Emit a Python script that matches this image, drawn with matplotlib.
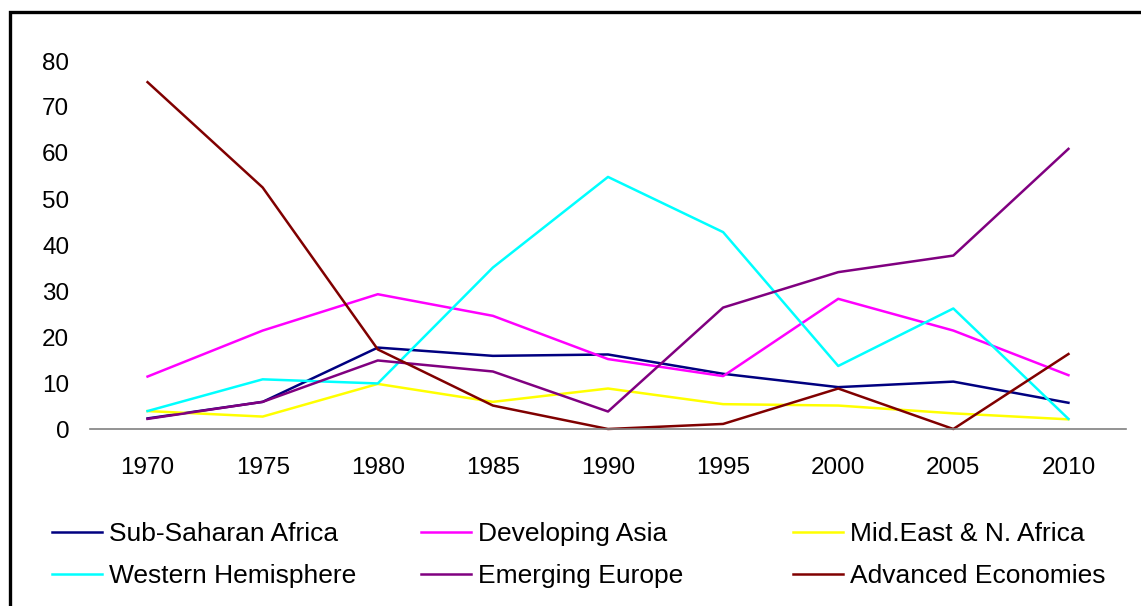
import matplotlib
matplotlib.use('Agg')
import matplotlib.pyplot as plt
from matplotlib.patches import Rectangle

plt.rcParams['font.family'] = ['Liberation Sans', 'DejaVu Sans']

# 数据
years = [1970, 1975, 1980, 1985, 1990, 1995, 2000, 2005, 2010]
sub_saharan = [2.3, 5.9, 17.7, 15.9, 16.2, 12.0, 9.1, 10.3, 5.7]
developing_asia = [11.4, 21.4, 29.3, 24.6, 15.2, 11.5, 28.3, 21.4, 11.7]
mideast = [3.9, 2.7, 9.8, 5.9, 8.8, 5.4, 5.1, 3.4, 2.1]
western_hem = [3.9, 10.8, 9.9, 35.1, 54.8, 42.8, 13.7, 26.2, 2.2]
emerging_europe = [2.2, 5.9, 14.9, 12.5, 3.8, 26.4, 34.1, 37.7, 60.9]
advanced = [75.4, 52.5, 17.3, 5.1, 0.0, 1.1, 8.8, 0.0, 16.3]

series_names = ['Sub-Saharan Africa', 'Developing Asia', 'Mid.East & N. Africa',
                'Western Hemisphere', 'Emerging Europe', 'Advanced Economies']
series_values = [sub_saharan, developing_asia, mideast, western_hem, emerging_europe, advanced]
series_colors = ['#000080', '#FF00FF', '#FFFF00', '#00FFFF', '#800080', '#800000']
y_ticks = [0, 10, 20, 30, 40, 50, 60, 70, 80]

W, H = 1141, 606
fig = plt.figure(figsize=(W / 100, H / 100), dpi=100)

# 外框（右侧和底部被截掉）
fig.patches.append(Rectangle((10 / W, -0.1), 1.2, 1.1 - 12 / H, transform=fig.transFigure,
                             fill=False, edgecolor='black', linewidth=2.4, zorder=0))

ax = fig.add_axes([90 / W, (H - 429) / H, (1126 - 90) / W, (429 - 61) / H])
handles = {}
for name, vals, col in zip(series_names, series_values, series_colors):
    ln, = ax.plot(years, vals, color=col, linewidth=1.8, clip_on=False)
    handles[name] = ln

ax.set_xlim(1967.5, 2012.5)
ax.set_ylim(0, 80)
ax.set_xticks(years)
ax.set_yticks(y_ticks)
ax.tick_params(axis='both', length=0, labelsize=17.5)
ax.tick_params(axis='x', pad=20)
ax.tick_params(axis='y', pad=15)
for s in ['top', 'right', 'left']:
    ax.spines[s].set_visible(False)
ax.spines['bottom'].set_color('#808080')
ax.spines['bottom'].set_linewidth(1.2)
ax.patch.set_visible(False)

# 图例：三列，每列两项，列宽相等
cols = [['Sub-Saharan Africa', 'Western Hemisphere'],
        ['Developing Asia', 'Emerging Europe'],
        ['Mid.East & N. Africa', 'Advanced Economies']]
col_x = [52, 421, 793]
for names, cx in zip(cols, col_x):
    fig.legend([handles[n] for n in names], names, loc='upper left',
               bbox_to_anchor=(cx / W, (H - 522) / H), bbox_transform=fig.transFigure,
               frameon=False, fontsize=19, handlelength=1.9, handletextpad=0.25,
               labelspacing=0.68, borderpad=0, borderaxespad=0)

fig.savefig('out.png', dpi=100)
